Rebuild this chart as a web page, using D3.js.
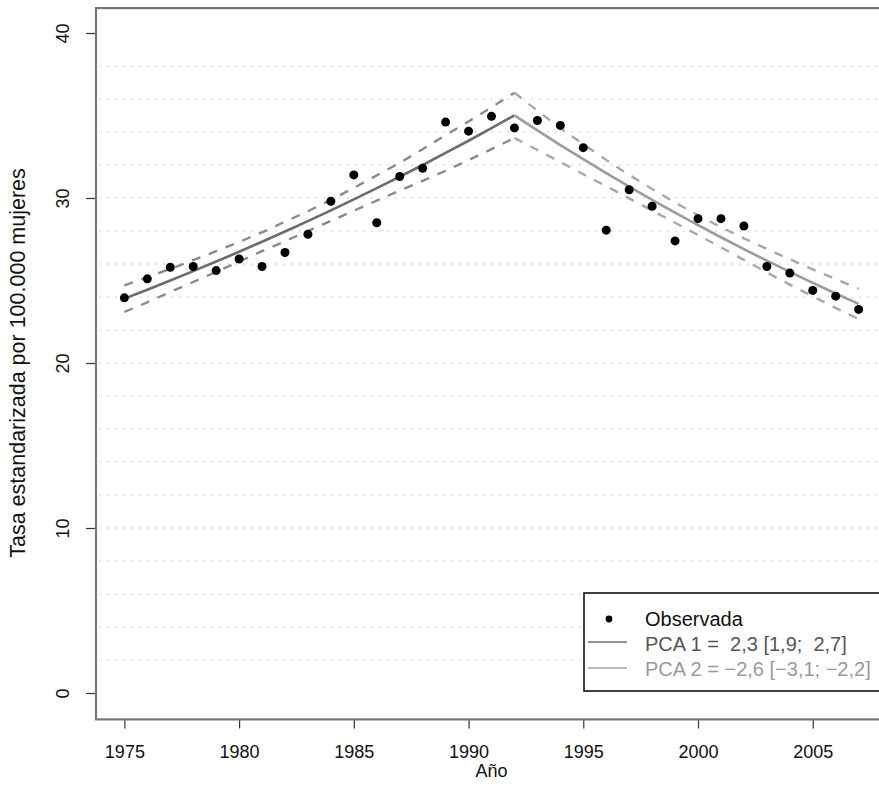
<!DOCTYPE html>
<html><head><meta charset="utf-8">
<script src="https://cdn.jsdelivr.net/npm/d3@7"></script>
<style>
body{margin:0;background:#fff}
text{font-family:"Liberation Sans",Arial,Helvetica,sans-serif}
</style>
</head><body>
<svg id="c" width="879" height="804"></svg>
<script>
// ---- data ----
const years = [1975,1976,1977,1978,1979,1980,1981,1982,1983,1984,1985,1986,1987,1988,1989,1990,1991,1992,1993,1994,1995,1996,1997,1998,1999,2000,2001,2002,2003,2004,2005,2006,2007];
const observed = [23.95,25.1,25.8,25.85,25.6,26.3,25.85,26.7,27.8,29.8,31.4,28.5,31.3,31.8,34.6,34.05,34.95,34.25,34.7,34.4,33.05,28.05,30.5,29.5,27.4,28.75,28.75,28.3,25.85,25.45,24.4,24.05,23.25];

const years1 = [1975,1976,1977,1978,1979,1980,1981,1982,1983,1984,1985,1986,1987,1988,1989,1990,1991,1992];
const fit1   = [23.90,24.44,25.00,25.57,26.15,26.74,27.35,27.97,28.60,29.25,29.92,30.60,31.29,32.00,32.73,33.47,34.23,35.01];
const upper1 = [24.71,25.20,25.70,26.23,26.78,27.33,27.92,28.56,29.20,29.89,30.61,31.37,32.13,32.96,33.81,34.64,35.50,36.38];
const lower1 = [23.09,23.68,24.30,24.91,25.52,26.15,26.78,27.38,28.00,28.61,29.23,29.84,30.45,31.04,31.65,32.30,32.96,33.64];

const years2 = [1992,1993,1994,1995,1996,1997,1998,1999,2000,2001,2002,2003,2004,2005,2006,2007];
const fit2   = [35.01,34.10,33.21,32.35,31.51,30.69,29.89,29.11,28.36,27.62,26.90,26.20,25.52,24.86,24.21,23.58];
const upper2 = [36.38,35.29,34.24,33.26,32.30,31.40,30.55,29.72,28.96,28.23,27.55,26.91,26.29,25.68,25.08,24.50];
const lower2 = [33.64,32.91,32.18,31.44,30.72,29.98,29.23,28.50,27.76,27.01,26.25,25.49,24.75,24.04,23.34,22.66];

const xTicks = [1975,1980,1985,1990,1995,2000,2005];
const yTicks = [0,10,20,30,40];
const gridValues = [2,4,6,8,10,12,14,16,18,20,22,24,26,28,30,32,34,36,38];
const legendLabels = ["Observada","PCA 1 =  2,3 [1,9;  2,7]","PCA 2 = \u22122,6 [\u22123,1; \u22122,2]"];
const xTitle = "Año";
const yTitle = "Tasa estandarizada por 100.000 mujeres";

// ---- layout ----
const svg = d3.select("#c");
const L = 95, R = 888, T = 6.6, B = 719.4;
const x = d3.scaleLinear().domain([1973.72, 2008.28]).range([L, R]);
const y = d3.scaleLinear().domain([-1.6, 41.6]).range([B, T]);
const FS = 18;

// grid
svg.append("g").selectAll("line").data(gridValues).join("line")
  .attr("x1", L + 4).attr("x2", R).attr("y1", d => y(d)).attr("y2", d => y(d))
  .attr("stroke", "#cfcfcf").attr("stroke-width", 1.2).attr("stroke-dasharray", "2,6");

// confidence bands
const line = (xs) => d3.line().x((d, i) => x(xs[i])).y(d => y(d));
[[upper1, years1, "#8a8a8a"], [lower1, years1, "#8a8a8a"], [upper2, years2, "#a8a8a8"], [lower2, years2, "#a8a8a8"]]
  .forEach(([vals, xs, col]) => {
    svg.append("path").attr("d", line(xs)(vals)).attr("fill", "none")
      .attr("stroke", col).attr("stroke-width", 2.4).attr("stroke-dasharray", "9,9");
  });

// fitted segments
svg.append("path").attr("d", line(years1)(fit1)).attr("fill", "none")
  .attr("stroke", "#6c6c6c").attr("stroke-width", 2.6);
svg.append("path").attr("d", line(years2)(fit2)).attr("fill", "none")
  .attr("stroke", "#9c9c9c").attr("stroke-width", 2.6);

// points
svg.append("g").selectAll("circle").data(observed).join("circle")
  .attr("cx", (d, i) => x(years[i])).attr("cy", d => y(d)).attr("r", 4.5).attr("fill", "#000");

// axes
const gx = svg.append("g").attr("transform", `translate(0,${B})`)
  .call(d3.axisBottom(x).tickValues(xTicks).tickFormat(d3.format("d")).tickSize(9).tickPadding(0));
gx.select(".domain").remove();
gx.selectAll("line").attr("stroke", "#333").attr("stroke-width", 1.2);
gx.selectAll("text").attr("y", 39).attr("dy", 0).attr("font-size", FS).attr("fill", "#111")
  .style("font-family", "'Liberation Sans',Arial,sans-serif");

const gy = svg.append("g").attr("transform", `translate(${L},0)`)
  .call(d3.axisLeft(y).tickValues(yTicks).tickSize(9));
gy.select(".domain").remove();
gy.selectAll("line").attr("stroke", "#333").attr("stroke-width", 1.2);
gy.selectAll("text").attr("x", 0).attr("y", 0).attr("dy", 0)
  .attr("transform", "translate(-26,0) rotate(-90)").attr("text-anchor", "middle")
  .attr("font-size", FS).attr("fill", "#111")
  .style("font-family", "'Liberation Sans',Arial,sans-serif");

// box
svg.append("rect").attr("x", L + 1).attr("y", T + 1.5).attr("width", R - L).attr("height", B - T - 1.5)
  .attr("fill", "none").attr("stroke", "#777").attr("stroke-width", 2.2);

// titles
svg.append("text").attr("x", (L + R) / 2).attr("y", 777).attr("text-anchor", "middle")
  .attr("font-size", FS).attr("fill", "#111").text(xTitle);
svg.append("text").attr("transform", `translate(25,${(T + B) / 2}) rotate(-90)`).attr("text-anchor", "middle")
  .attr("font-size", 21.5).attr("fill", "#111").text(yTitle);

// legend
const lg = svg.append("g");
lg.append("rect").attr("x", 584).attr("y", 593).attr("width", 310).attr("height", 98)
  .attr("fill", "#fff").attr("stroke", "#111").attr("stroke-width", 1.6);
const rowY = [619, 644, 669];
lg.append("circle").attr("cx", 609).attr("cy", rowY[0]).attr("r", 3.4).attr("fill", "#000");
lg.append("line").attr("x1", 588).attr("x2", 627).attr("y1", rowY[1] - 2).attr("y2", rowY[1] - 2)
  .attr("stroke", "#6c6c6c").attr("stroke-width", 1.3);
lg.append("line").attr("x1", 588).attr("x2", 627).attr("y1", rowY[2] - 1).attr("y2", rowY[2] - 1)
  .attr("stroke", "#a0a0a0").attr("stroke-width", 1.3);
const legCols = ["#111", "#555", "#9a9a9a"];
lg.selectAll("text.leg").data(legendLabels).join("text").attr("class", "leg")
  .attr("x", 645).attr("y", (d, i) => rowY[i] + 7).attr("font-size", 20)
  .attr("fill", (d, i) => legCols[i]).style("white-space", "pre").text(d => d);
</script>
</body></html>
